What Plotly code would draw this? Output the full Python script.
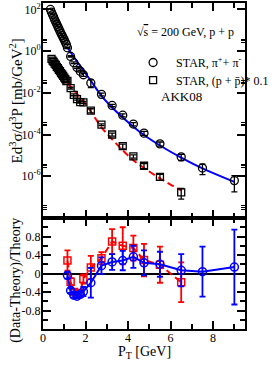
import plotly.graph_objects as go

# ---------------- data ----------------
# pions, low pT chain
pi_pt_low = [0.35, 0.40, 0.45, 0.50, 0.55, 0.60, 0.65, 0.70, 0.75, 0.80, 0.85, 0.90, 0.95, 1.00, 1.05, 1.10]
pi_val_low = [100, 74, 56, 43, 32, 25, 19.5, 15.1, 11.7, 9.1, 7.1, 5.6, 4.4, 3.5, 2.7, 2.1]
# pions, pT > 1.1
pi_pt = [1.15, 1.3, 1.45, 1.6, 1.75, 1.9, 2.25, 2.75, 3.25, 3.75, 4.25, 4.75, 5.5, 6.5, 7.5, 9.0]
pi_val = [1.45, 0.56, 0.28, 0.166, 0.11, 0.074, 0.030, 8.5e-3, 2.5e-3, 8.5e-4, 3.2e-4, 1.17e-4,
          3.6e-5, 8.5e-6, 2.5e-6, 6.2e-7]
# pion ratio (Data-Theory)/Theory
pi_ratio = [-0.04, -0.37, -0.47, -0.49, -0.45, -0.39, -0.20, 0.17, 0.25, 0.28, 0.36, 0.23, 0.20, 0.07, 0.04, 0.14]
pi_ratio_err = [0.07, 0.05, 0.05, 0.05, 0.06, 0.10, 0.32, 0.18, 0.17, 0.21, 0.24, 0.27, 0.27, 0.35, 0.54, 0.81]

# protons (x 0.1), low pT chain
p_pt_low = [0.40, 0.45, 0.50, 0.55, 0.60, 0.65, 0.70, 0.75, 0.80, 0.85, 0.90, 0.95, 1.00, 1.05, 1.10]
p_val_low = [0.427, 0.355, 0.309, 0.251, 0.219, 0.178, 0.155, 0.126, 0.110, 0.089, 0.078, 0.065, 0.054, 0.046, 0.037]
# protons, pT > 1.1
p_pt = [1.15, 1.3, 1.45, 1.6, 1.75, 1.9, 2.25, 2.75, 3.25, 3.75, 4.25, 4.75, 5.5, 6.5]
p_val = [0.038, 0.017, 0.0081, 0.0050, 0.0036, 0.0035, 1.42e-3, 2.98e-4, 1.01e-4, 2.78e-5, 9.1e-6,
         3.2e-6, 9.4e-7, 1.7e-7]
p_ratio = [0.28, -0.18, -0.40, -0.45, -0.42, -0.12, 0.13, 0.33, 0.69, 0.60, 0.55, 0.29, 0.19, -0.19]
p_ratio_err = [0.22, 0.08, 0.06, 0.06, 0.06, 0.10, 0.25, 0.13, 0.27, 0.40, 0.27, 0.35, 0.39, 0.43]

# AKK08 theory curves
th_pi_pt = [1.15, 1.5, 1.9, 2.25, 2.75, 3.25, 3.75, 4.25, 4.75, 5.5, 6.5, 7.5, 9.0]
th_pi_val = [1.51, 0.447, 0.120, 0.038, 7.2e-3, 2.0e-3, 6.6e-4, 2.4e-4, 9.5e-5, 3.0e-5, 7.9e-6, 2.4e-6, 5.4e-7]
th_p_pt = [1.15, 1.5, 1.9, 2.25, 2.75, 3.25, 3.75, 4.25, 4.75, 5.5, 6.5]
th_p_val = [0.030, 0.0117, 3.98e-3, 1.26e-3, 2.24e-4, 6.0e-5, 1.74e-5, 5.9e-6, 2.5e-6, 7.9e-7, 2.1e-7]

# tick labels
x_ticks = [0, 2, 4, 6, 8]
y_top_ticks = [1e2, 1e0, 1e-2, 1e-4, 1e-6]
y_top_labels = ["10<sup>2</sup>", "10<sup>0</sup>", "10<sup>-2</sup>", "10<sup>-4</sup>", "10<sup>-6</sup>"]
y_bot_ticks = [-0.8, -0.4, 0, 0.4, 0.8]
y_bot_labels = ["-0.8", "-0.4", "0", "0.4", "0.8"]

# ---------------- derived ----------------
pi_err_top = [v * e / (1 + r) for v, e, r in zip(pi_val, pi_ratio_err, pi_ratio)]
p_err_top = [v * e / (1 + r) for v, e, r in zip(p_val, p_ratio_err, p_ratio)]
pi_x_all = pi_pt_low + pi_pt
pi_y_all = pi_val_low + pi_val
pi_e_all = [0.0] * len(pi_pt_low) + pi_err_top
p_x_all = p_pt_low + p_pt
p_y_all = p_val_low + p_val
p_e_all = [0.0] * len(p_pt_low) + p_err_top

FONT = "Liberation Serif"
BLUE = "#0000ff"
RED = "#ff0000"
PAD = "\u00a0"

fig = go.Figure()

# top panel theory
fig.add_trace(go.Scatter(x=th_pi_pt, y=th_pi_val, mode="lines", line=dict(color=BLUE, width=2, shape="spline"),
                         xaxis="x2", yaxis="y2", showlegend=False))
fig.add_trace(go.Scatter(x=th_p_pt, y=th_p_val, mode="lines",
                         line=dict(color=RED, width=2, dash="7px,4px", shape="spline"),
                         xaxis="x2", yaxis="y2", showlegend=False))
# top panel data
fig.add_trace(go.Scatter(x=pi_x_all, y=pi_y_all, mode="markers",
                         marker=dict(symbol="circle-open", size=8, color="black", line=dict(width=1.3)),
                         error_y=dict(type="data", array=pi_e_all, color="black", thickness=1.3, width=3),
                         xaxis="x2", yaxis="y2", legend="legend",
                         name=PAD + "STAR, π<sup>+</sup>+ π<sup>-</sup>"))
fig.add_trace(go.Scatter(x=p_x_all, y=p_y_all, mode="markers",
                         marker=dict(symbol="square-open", size=7, color="black", line=dict(width=1.3)),
                         error_y=dict(type="data", array=p_e_all, color="black", thickness=1.3, width=3),
                         xaxis="x2", yaxis="y2", legend="legend2",
                         name=PAD + "STAR, (p + p\u0304)* 0.1"))

# bottom panel ratios
fig.add_trace(go.Scatter(x=p_pt, y=p_ratio, mode="lines+markers",
                         line=dict(color=RED, width=2, dash="7px,4px"),
                         marker=dict(symbol="square-open", size=7, color=RED, line=dict(width=1.5)),
                         error_y=dict(type="data", array=p_ratio_err, color=RED, thickness=1.8, width=3),
                         xaxis="x", yaxis="y", showlegend=False))
fig.add_trace(go.Scatter(x=pi_pt, y=pi_ratio, mode="lines+markers",
                         line=dict(color=BLUE, width=2),
                         marker=dict(symbol="circle-open", size=8, color=BLUE, line=dict(width=1.5)),
                         error_y=dict(type="data", array=pi_ratio_err, color=BLUE, thickness=1.8, width=3),
                         xaxis="x", yaxis="y", showlegend=False))

split = 111 / 326

axis_common = dict(showline=True, linecolor="black", linewidth=2, mirror="allticks", ticks="inside",
                   tickcolor="black", tickwidth=1.5, showgrid=False, automargin=False,
                   tickfont=dict(family=FONT, size=12, color="black"))

minor_top = []
for k in [-8, -6, -4, -2, 0]:
    for m in [2.7, 3.2, 3.8]:
        minor_top.append(m * 10.0 ** k)

legend_common = dict(xanchor="left", yanchor="top", bgcolor="rgba(0,0,0,0)",
                     font=dict(family=FONT, size=12, color="black"))

fig.update_layout(
    template="none",
    width=276, height=368,
    margin=dict(l=43, r=2, t=3, b=39),
    paper_bgcolor="white", plot_bgcolor="white",
    xaxis=dict(domain=[0, 1], range=[0, 9.5], anchor="y", tickmode="array", tickvals=x_ticks, ticklen=8,
               ticklabelstandoff=-3,
               minor=dict(dtick=1, tick0=0, ticklen=5, ticks="inside", tickcolor="black", tickwidth=1.5),
               zeroline=False, **axis_common),
    xaxis2=dict(domain=[0, 1], range=[0, 9.5], anchor="y2", tickmode="array", tickvals=x_ticks,
                ticklen=8, showticklabels=False,
                minor=dict(dtick=1, tick0=0, ticklen=5, ticks="inside", tickcolor="black", tickwidth=1.5),
                zeroline=False, **axis_common),
    yaxis=dict(domain=[0, split], range=[-1.2, 1.2], anchor="x", tickmode="array", tickvals=y_bot_ticks,
               ticktext=y_bot_labels, ticklen=8, ticklabelstandoff=-2,
               minor=dict(dtick=0.2, tick0=0, ticklen=5, ticks="inside", tickcolor="black", tickwidth=1.5),
               zeroline=True, zerolinecolor="black", zerolinewidth=2, **axis_common),
    yaxis2=dict(domain=[split, 1], type="log", range=[-8, 2.31], anchor="x2", tickmode="array",
                tickvals=y_top_ticks, ticktext=y_top_labels, ticklen=8, ticklabelstandoff=-2,
                minor=dict(tickmode="array", tickvals=minor_top, ticklen=4, ticks="inside",
                           tickcolor="black", tickwidth=1),
                zeroline=False, **axis_common),
    legend=dict(x=0.446, y=0.862, **legend_common),
    legend2=dict(x=0.446, y=0.808, **legend_common),
    showlegend=True,
)

ann_font = dict(family=FONT, size=12, color="black")
fig.add_annotation(text="√<span style='text-decoration:overline'>s</span> = 200 GeV, p + p",
                   xref="paper", yref="paper", x=0.706, y=0.911, xanchor="center", yanchor="middle",
                   showarrow=False, font=ann_font)
fig.add_annotation(text="AKK08", xref="paper", yref="paper", x=0.684, y=0.712, xanchor="center",
                   yanchor="middle", showarrow=False, font=dict(family=FONT, size=13, color="black"))
fig.add_annotation(text="Ed<sup>3</sup>σ/d<sup>3</sup>P [mb/GeV<sup>2</sup>]", xref="paper", yref="paper",
                   x=-0.135, y=0.70, xanchor="center", yanchor="middle", textangle=-90, showarrow=False,
                   font=dict(family=FONT, size=15, color="black"))
fig.add_annotation(text="(Data-Theory)/Theory", xref="paper", yref="paper",
                   x=-0.135, y=0.15, xanchor="center", yanchor="middle", textangle=-90, showarrow=False,
                   font=dict(family=FONT, size=14, color="black"))
fig.add_annotation(text="P<sub>T</sub> [GeV]", xref="paper", yref="paper",
                   x=0.5, y=-0.072, xanchor="center", yanchor="middle", showarrow=False,
                   font=dict(family=FONT, size=14, color="black"))

fig.write_html("out.html", config={"displayModeBar": False},
               post_script="document.body.style.margin='0';document.body.style.padding='0';"
                           "document.documentElement.style.overflow='hidden';")
